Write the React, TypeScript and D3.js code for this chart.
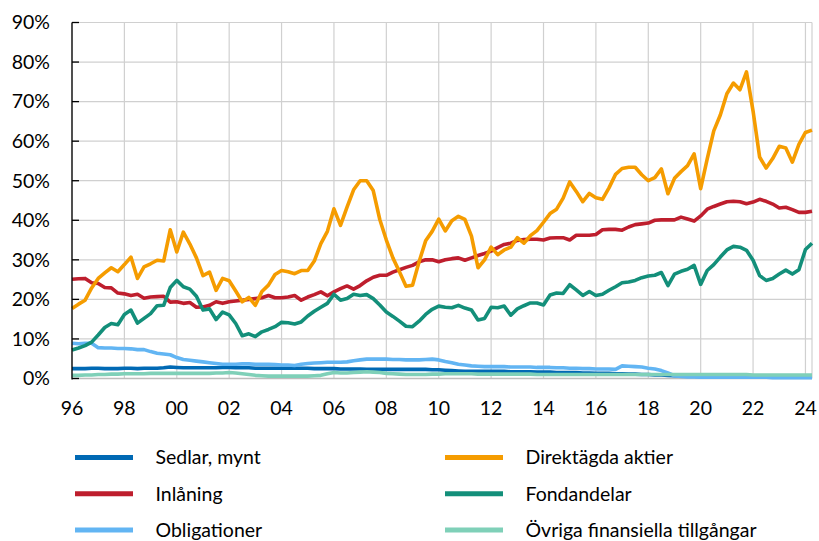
import React from "react";
import * as d3 from "d3";

const tickLabels = ["96", "98", "00", "02", "04", "06", "08", "10", "12", "14", "16", "18", "20", "22", "24"];
const yTicks = [0, 10, 20, 30, 40, 50, 60, 70, 80, 90];

const sedlar = [
  2.5, 2.5, 2.5, 2.6, 2.6, 2.5, 2.5, 2.5, 2.6, 2.6,
  2.5, 2.6, 2.6, 2.6, 2.7, 2.9, 2.8, 2.7, 2.7, 2.7,
  2.7, 2.7, 2.7, 2.8, 2.8, 2.7, 2.7, 2.7, 2.6, 2.6,
  2.6, 2.6, 2.6, 2.6, 2.6, 2.6, 2.6, 2.5, 2.5, 2.5,
  2.5, 2.4, 2.4, 2.4, 2.4, 2.3, 2.3, 2.3, 2.3, 2.3,
  2.3, 2.3, 2.3, 2.3, 2.3, 2.2, 2.2, 2.1, 2.0, 1.9,
  1.8, 1.8, 1.8, 1.8, 1.8, 1.8, 1.8, 1.7, 1.7, 1.7,
  1.7, 1.6, 1.6, 1.6, 1.5, 1.5, 1.5, 1.5, 1.4, 1.4,
  1.3, 1.3, 1.3, 1.2, 1.2, 1.1, 1.1, 1.0, 1.0, 0.9,
  0.9, 0.8, 0.7, 0.7, 0.6, 0.6, 0.5, 0.5, 0.5, 0.5,
  0.5, 0.5, 0.5, 0.5, 0.5, 0.4, 0.4, 0.4, 0.4, 0.4,
  0.4, 0.4, 0.4, 0.4,
];

const inlaning = [
  25.1, 25.2, 25.3, 24.2, 24.0, 23.0, 22.9, 21.6, 21.4, 21.0,
  21.3, 20.3, 20.6, 20.7, 20.8, 19.3, 19.4, 19.0, 19.2, 18.0,
  18.1, 18.5, 19.4, 19.0, 19.4, 19.6, 19.8, 20.0, 20.2, 20.4,
  21.0, 20.4, 20.4, 20.6, 21.0, 19.8, 20.6, 21.2, 21.9, 20.9,
  21.9, 22.7, 23.4, 22.6, 23.5, 24.7, 25.6, 26.1, 26.1, 26.9,
  27.5, 28.1, 28.6, 29.5, 30.0, 30.0, 29.5, 30.0, 30.3, 30.5,
  29.9, 30.5, 31.1, 31.6, 32.2, 33.1, 33.9, 34.2, 34.9, 35.1,
  35.2, 35.2, 35.0, 35.5, 35.6, 35.6, 35.0, 36.2, 36.2, 36.2,
  36.4, 37.6, 37.7, 37.7, 37.5, 38.3, 38.9, 39.1, 39.3, 40.0,
  40.1, 40.1, 40.1, 40.8, 40.3, 39.8, 41.1, 42.8, 43.5, 44.1,
  44.7, 44.8, 44.7, 44.2, 44.6, 45.3, 44.8, 44.1, 43.1, 43.3,
  42.7, 42.0, 42.0, 42.3,
];

const obligationer = [
  8.9, 8.8, 8.9, 8.9, 7.8, 7.7, 7.7, 7.6, 7.6, 7.5,
  7.3, 7.3, 6.8, 6.4, 6.2, 6.0, 5.3, 4.8, 4.6, 4.4,
  4.2, 4.0, 3.8, 3.6, 3.6, 3.6, 3.7, 3.7, 3.6, 3.6,
  3.6, 3.5, 3.4, 3.4, 3.3, 3.6, 3.8, 3.9, 4.0, 4.1,
  4.1, 4.1, 4.2, 4.5, 4.7, 4.9, 4.9, 4.9, 4.9, 4.8,
  4.8, 4.7, 4.7, 4.7, 4.8, 4.9, 4.7, 4.3, 4.0, 3.6,
  3.4, 3.2, 3.1, 3.0, 3.0, 3.0, 3.0, 2.9, 2.9, 2.9,
  2.9, 2.8, 2.8, 2.8, 2.7, 2.7, 2.6, 2.6, 2.5, 2.5,
  2.4, 2.4, 2.4, 2.3, 3.2, 3.1, 3.0, 2.9, 2.6, 2.4,
  2.0, 1.4, 0.7, 0.5, 0.4, 0.4, 0.3, 0.3, 0.3, 0.3,
  0.3, 0.3, 0.3, 0.3, 0.3, 0.3, 0.3, 0.2, 0.2, 0.2,
  0.2, 0.2, 0.2, 0.2,
];

const direktagda = [
  17.7, 18.8, 19.8, 22.9, 25.3, 26.7, 28.0, 27.0, 28.8, 30.7,
  25.3, 28.2, 29.0, 29.9, 29.7, 37.6, 32.0, 37.0, 34.0, 30.5,
  26.0, 26.9, 22.3, 25.3, 24.7, 22.1, 19.4, 20.5, 18.5, 22.0,
  23.6, 26.3, 27.3, 27.0, 26.5, 27.3, 27.3, 29.7, 34.1, 37.2,
  42.9, 38.7, 43.3, 47.7, 50.0, 50.0, 47.5, 40.2, 35.0, 30.5,
  27.0, 23.3, 23.6, 29.5, 34.8, 37.2, 40.3, 37.3, 39.9, 41.0,
  40.2, 36.0, 28.0, 30.0, 33.2, 31.3, 32.5, 33.2, 35.6, 34.2,
  36.1, 37.4, 39.5, 41.7, 42.8, 45.6, 49.7, 47.3, 44.7, 46.8,
  45.7, 45.3, 48.2, 51.6, 53.1, 53.4, 53.4, 51.5, 50.0, 50.8,
  53.0, 46.7, 50.6, 52.3, 53.8, 56.8, 48.0, 55.5, 62.6, 66.6,
  72.0, 74.7, 73.0, 77.5, 67.6, 56.0, 53.2, 55.6, 58.7, 58.3,
  54.7, 59.2, 62.2, 62.8,
];

const fondandelar = [
  7.2, 7.7, 8.3, 9.2, 11.0, 12.9, 13.9, 13.6, 16.2, 17.3,
  14.0, 15.2, 16.4, 18.4, 18.5, 23.0, 24.8, 23.2, 22.6, 20.8,
  17.3, 17.6, 14.9, 16.8, 16.1, 13.9, 10.8, 11.3, 10.6, 11.8,
  12.4, 13.1, 14.2, 14.1, 13.8, 14.3, 15.8, 17.0, 18.0, 19.0,
  21.3, 19.8, 20.2, 21.3, 21.0, 21.2, 20.2, 18.6, 16.8, 15.7,
  14.5, 13.2, 13.1, 14.5, 16.2, 17.5, 18.3, 18.0, 17.9, 18.5,
  17.8, 17.3, 14.8, 15.2, 18.0, 17.9, 18.3, 16.0, 17.6, 18.4,
  19.1, 19.1, 18.6, 21.1, 21.6, 21.5, 23.7, 22.4, 21.0, 22.0,
  21.0, 21.3, 22.3, 23.2, 24.2, 24.4, 24.8, 25.5, 25.9, 26.1,
  26.8, 23.5, 26.4, 27.1, 27.6, 28.6, 23.8, 27.3, 28.8, 30.7,
  32.5, 33.4, 33.2, 32.4, 29.9, 26.0, 24.8, 25.3, 26.4, 27.4,
  26.4, 27.5, 32.6, 34.2,
];

const ovriga = [
  0.8, 0.8, 0.9, 0.9, 1.0, 1.0, 1.1, 1.1, 1.2, 1.2,
  1.2, 1.2, 1.3, 1.3, 1.3, 1.3, 1.3, 1.3, 1.3, 1.3,
  1.3, 1.3, 1.4, 1.4, 1.5, 1.4, 1.2, 1.0, 0.8, 0.7,
  0.6, 0.6, 0.6, 0.6, 0.6, 0.6, 0.6, 0.7, 0.8, 1.2,
  1.5, 1.4, 1.4, 1.5, 1.6, 1.7, 1.6, 1.5, 1.3, 1.2,
  1.1, 1.0, 1.0, 1.0, 1.0, 1.1, 1.1, 1.2, 1.2, 1.2,
  1.2, 1.2, 1.1, 1.1, 1.1, 1.1, 1.1, 1.1, 1.1, 1.1,
  1.1, 1.0, 1.0, 1.0, 1.0, 1.0, 1.0, 1.0, 1.0, 1.0,
  1.0, 1.0, 1.0, 1.0, 1.0, 1.0, 1.0, 1.0, 1.0, 1.0,
  1.0, 1.0, 1.0, 1.0, 1.0, 1.0, 1.0, 1.0, 1.0, 1.0,
  1.0, 1.0, 1.0, 1.0, 0.9, 0.9, 0.9, 0.9, 0.9, 0.9,
  0.9, 0.9, 0.9, 0.9,
];

const seriesNames = ["Sedlar, mynt", "Inlåning", "Obligationer", "Direktägda aktier", "Fondandelar", "Övriga finansiella tillgångar"];
const seriesValues = [sedlar, inlaning, obligationer, direktagda, fondandelar, ovriga];
const seriesColors = ["#0069b4", "#be1e2d", "#62b5f3", "#f59c00", "#138f7a", "#7fd0b8"];

const W = 819;
const H = 541;
const FONT = "Lato, 'Liberation Sans', sans-serif";

export default function App() {
  const n = sedlar.length;
  const x = d3.scaleLinear().domain([0, n - 1]).range([72, 812]);
  const y = d3.scaleLinear().domain([0, 90]).range([378.5, 22.5]);
  const line = d3
    .line<number>()
    .x((_, i) => x(i))
    .y((d) => y(d))
    .curve(d3.curveLinear);

  const tickIdx = tickLabels.map((_, i) => i * 8);

  return (
    <svg
      width={W}
      height={H}
      style={{ position: "absolute", left: 0, top: 0, background: "#fff" }}
      fontFamily={FONT}
    >
      {/* horizontal gridlines */}
      {yTicks.map((t) => (
        <line key={"hg" + t} x1={x(0)} x2={x(n - 1)} y1={y(t)} y2={y(t)} stroke="#d0d0d0" strokeWidth={1.2} />
      ))}
      {/* vertical gridlines */}
      {tickIdx.map((ti) => (
        <line key={"vg" + ti} x1={x(ti)} x2={x(ti)} y1={y(90)} y2={y(0)} stroke="#d0d0d0" strokeWidth={1.2} />
      ))}
      <line x1={x(n - 1)} x2={x(n - 1)} y1={y(90)} y2={y(0)} stroke="#d0d0d0" strokeWidth={1.2} />
      {/* x axis line */}
      <line x1={x(0)} x2={x(n - 1)} y1={y(0)} y2={y(0)} stroke="#bdbdbd" strokeWidth={1.5} />

      {/* series */}
      {seriesValues.map((vals, si) => (
        <path
          key={"s" + si}
          d={line(vals) || ""}
          fill="none"
          stroke={seriesColors[si]}
          strokeWidth={3.6}
          strokeLinejoin="round"
          strokeLinecap="butt"
        />
      ))}

      {/* y axis */}
      <line x1={x(0)} x2={x(0)} y1={y(90)} y2={y(0) + 1} stroke="#000" strokeWidth={1.3} />
      {yTicks.map((t) => (
        <g key={"yt" + t}>
          <line x1={x(0)} x2={x(0) + 7} y1={y(t)} y2={y(t)} stroke="#000" strokeWidth={1.3} />
          <text x={50} y={y(t)} dy="0.35em" textAnchor="end" fontSize={19.5} fill="#000">
            {t + "%"}
          </text>
        </g>
      ))}
      {/* x tick labels */}
      {tickIdx.map((ti, k) => (
        <text key={"xt" + ti} x={x(ti)} y={408} dy="0.35em" textAnchor="middle" fontSize={19.5} fill="#000">
          {tickLabels[k]}
        </text>
      ))}

      {/* legend */}
      {seriesNames.map((name, i) => {
        const col = Math.floor(i / 3);
        const row = i % 3;
        const sx = col === 0 ? 75 : 445;
        const ty = 457.5 + row * 36.3;
        return (
          <g key={"lg" + i}>
            <line x1={sx} x2={sx + 58} y1={ty} y2={ty} stroke={seriesColors[i]} strokeWidth={5} />
            <text x={sx + 80.5} y={ty} dy="0.35em" fontSize={19.5} fill="#000">
              {name}
            </text>
          </g>
        );
      })}
    </svg>
  );
}
